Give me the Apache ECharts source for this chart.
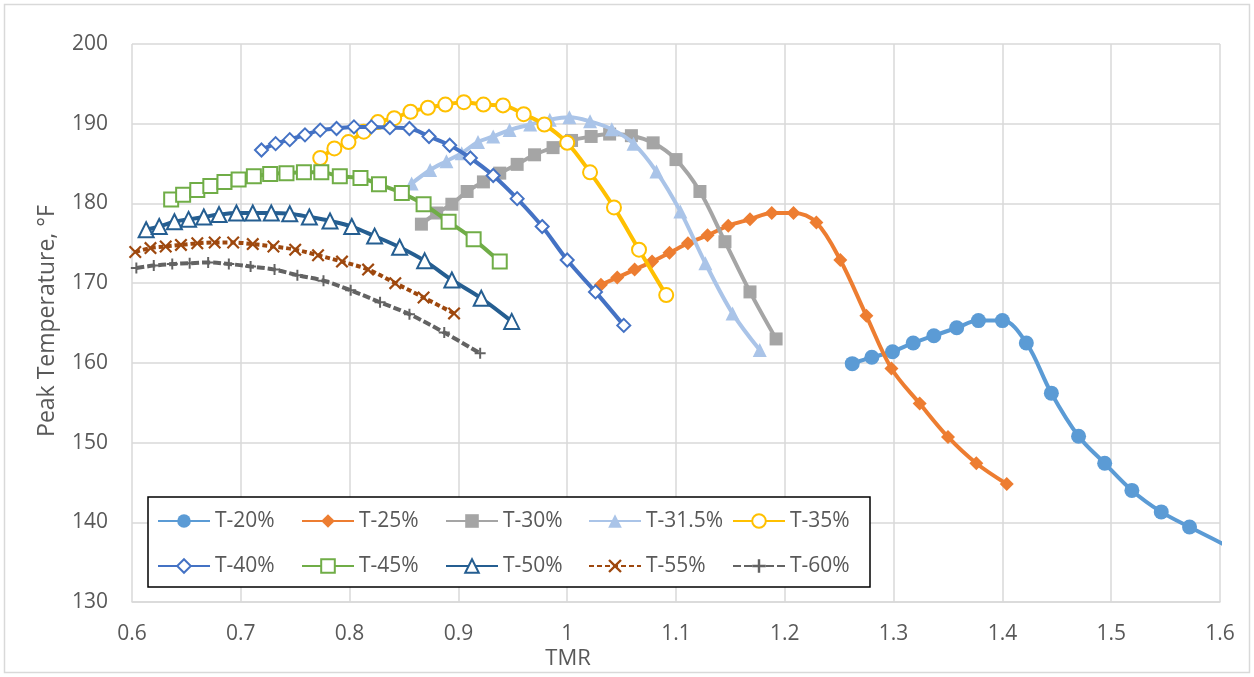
<!DOCTYPE html>
<html>
<head>
<meta charset="utf-8">
<script src="https://cdn.jsdelivr.net/npm/echarts@6/dist/echarts.min.js"></script>
<style>
html,body{margin:0;padding:0;background:#fff;}
#chart{width:1254px;height:677px;}
</style>
</head>
<body>
<div id="chart"></div>
<script>
// ---- data ----
const seriesNames = ['T-20%','T-25%','T-30%','T-31.5%','T-35%','T-40%','T-45%','T-50%','T-55%','T-60%'];

const tmr20  = [1.262,1.280,1.299,1.318,1.337,1.358,1.378,1.400,1.422,1.445,1.470,1.494,1.519,1.546,1.572,1.610];
const temp20 = [159.9,160.7,161.4,162.5,163.4,164.4,165.3,165.3,162.5,156.2,150.8,147.4,144.0,141.3,139.4,136.8];

const tmr25  = [1.031,1.046,1.062,1.078,1.094,1.111,1.129,1.148,1.168,1.188,1.208,1.229,1.251,1.275,1.298,1.324,1.350,1.376,1.404];
const temp25 = [169.8,170.7,171.7,172.7,173.8,175.0,176.0,177.2,178.0,178.8,178.8,177.6,172.9,165.9,159.3,154.9,150.7,147.4,144.8];

const tmr30  = [0.866,0.880,0.894,0.908,0.923,0.938,0.954,0.970,0.987,1.004,1.022,1.039,1.059,1.079,1.100,1.122,1.145,1.168,1.192];
const temp30 = [177.4,178.8,179.9,181.5,182.7,183.8,184.9,186.1,187.0,187.9,188.4,188.7,188.5,187.6,185.5,181.5,175.2,168.9,163.0];

const tmr315  = [0.857,0.874,0.889,0.903,0.918,0.932,0.947,0.966,0.984,1.002,1.021,1.041,1.061,1.082,1.104,1.127,1.152,1.177];
const temp315 = [182.5,184.2,185.3,186.3,187.7,188.4,189.2,189.9,190.5,190.8,190.3,189.3,187.5,184.0,179.0,172.5,166.2,161.6];

const tmr35  = [0.773,0.786,0.799,0.813,0.826,0.841,0.856,0.872,0.888,0.905,0.923,0.941,0.960,0.979,1.000,1.021,1.043,1.066,1.091];
const temp35 = [185.7,186.9,187.7,189.0,190.2,190.7,191.5,192.0,192.4,192.7,192.4,192.3,191.2,189.9,187.6,183.9,179.5,174.2,168.5];

const tmr40  = [0.719,0.732,0.745,0.759,0.773,0.788,0.804,0.820,0.837,0.855,0.873,0.892,0.911,0.932,0.954,0.977,1.000,1.026,1.052];
const temp40 = [186.7,187.5,188.0,188.6,189.2,189.4,189.6,189.6,189.5,189.4,188.4,187.3,185.7,183.5,180.6,177.1,172.9,168.9,164.7];

const tmr45  = [0.636,0.647,0.660,0.672,0.685,0.698,0.712,0.727,0.742,0.758,0.774,0.791,0.810,0.827,0.848,0.868,0.891,0.914,0.938];
const temp45 = [180.5,181.1,181.7,182.2,182.7,183.0,183.4,183.7,183.8,183.9,183.9,183.4,183.2,182.4,181.3,179.9,177.7,175.5,172.7];

const tmr50  = [0.613,0.625,0.639,0.652,0.666,0.680,0.696,0.711,0.728,0.745,0.763,0.782,0.802,0.823,0.846,0.869,0.894,0.921,0.949];
const temp50 = [176.7,177.1,177.7,178.0,178.3,178.6,178.8,178.8,178.8,178.7,178.3,177.8,177.1,175.9,174.5,172.8,170.4,168.1,165.2];

const tmr55  = [0.603,0.617,0.631,0.645,0.660,0.676,0.693,0.711,0.730,0.750,0.771,0.793,0.817,0.842,0.868,0.896];
const temp55 = [173.9,174.4,174.6,174.8,175.0,175.1,175.1,174.9,174.6,174.2,173.5,172.7,171.7,170.0,168.2,166.2];

const tmr60  = [0.604,0.620,0.637,0.653,0.670,0.689,0.709,0.731,0.752,0.776,0.801,0.828,0.855,0.887,0.920];
const temp60 = [171.9,172.2,172.4,172.5,172.6,172.4,172.1,171.7,171.0,170.3,169.1,167.6,166.1,163.8,161.2];

const xTicks = [0.6,0.7,0.8,0.9,1.0,1.1,1.2,1.3,1.4,1.5,1.6];
const yTicks = [130,140,150,160,170,180,190,200];

const xTitle = 'TMR';
const yTitle = 'Peak Temperature, °F';

// ---- styling ----
const FONT = '"Open Sans", "Liberation Sans", sans-serif';
const TXT = '#595959';
const GRID = '#D9D9D9';

const X_PATH = 'path://M0,1.2L1.2,0L5,3.8L8.8,0L10,1.2L6.2,5L10,8.8L8.8,10L5,6.2L1.2,10L0,8.8L3.8,5Z';
const PLUS_PATH = 'path://M4.1,0H5.9V4.1H10V5.9H5.9V10H4.1V5.9H0V4.1H4.1Z';

const styles = [
  {color:'#5B9BD5', symbol:'circle',   size:15, hollow:false, dash:'solid'},
  {color:'#ED7D31', symbol:'diamond',  size:14, hollow:false, dash:'solid'},
  {color:'#A5A5A5', symbol:'rect',     size:13, hollow:false, dash:'solid'},
  {color:'#AAC4E8', symbol:'triangle', size:14, hollow:false, dash:'solid'},
  {color:'#FFC000', symbol:'circle',   size:14, hollow:true,  dash:'solid'},
  {color:'#4472C4', symbol:'diamond',  size:13, hollow:true,  dash:'solid'},
  {color:'#70AD47', symbol:'rect',     size:14, hollow:true,  dash:'solid'},
  {color:'#255E91', symbol:'triangle', size:15, hollow:true,  dash:'solid'},
  {color:'#9E480E', symbol:X_PATH,     size:13, hollow:false, dash:[5,3]},
  {color:'#636363', symbol:PLUS_PATH,  size:11, hollow:false, dash:[8,3]}
];

const xs = [tmr20,tmr25,tmr30,tmr315,tmr35,tmr40,tmr45,tmr50,tmr55,tmr60];
const ys = [temp20,temp25,temp30,temp315,temp35,temp40,temp45,temp50,temp55,temp60];

const series = seriesNames.map((name,i)=>{
  const st = styles[i];
  return {
    name: name,
    type: 'line',
    data: xs[i].map((x,k)=>[x, ys[i][k]]),
    smooth: 0.35,
    symbol: st.symbol,
    symbolSize: st.size,
    showAllSymbol: true,
    clip: true,
    lineStyle: {color: st.color, width: 4, type: st.dash},
    itemStyle: st.hollow
      ? {color:'#ffffff', borderColor: st.color, borderWidth: 2}
      : {color: st.color, borderWidth: 0},
    emphasis: {disabled: true},
    z: 2 + i*0.01
  };
});

const colX = [157, 301, 445, 588, 732];
const rowY = [521, 566];
const legends = seriesNames.map((name,i)=>({
  data: [name],
  left: colX[i % 5],
  top: rowY[Math.floor(i/5)] - 10.5,
  padding: 0,
  itemGap: 0,
  itemWidth: 52,
  itemHeight: 17,
  selectedMode: false,
  textStyle: {fontSize: 21, color: TXT, fontFamily: FONT},
  z: 6
}));

const option = {
  animation: false,
  backgroundColor: '#ffffff',
  textStyle: {fontFamily: FONT},
  grid: {left: 132, right: 34, top: 44, bottom: 75, containLabel: false},
  xAxis: {
    type: 'value',
    min: xTicks[0], max: xTicks[xTicks.length-1], interval: 0.1,
    axisLine: {show: true, lineStyle: {color: GRID, width: 1.5}},
    axisTick: {show: false},
    splitLine: {show: true, lineStyle: {color: GRID, width: 1.5}},
    axisLabel: {
      margin: 22, fontSize: 21, color: TXT, fontFamily: FONT,
      formatter: v => String(Math.round(v*10)/10)
    }
  },
  yAxis: {
    type: 'value',
    min: yTicks[0], max: yTicks[yTicks.length-1], interval: 10,
    axisLine: {show: false},
    axisTick: {show: false},
    splitLine: {show: true, lineStyle: {color: GRID, width: 1.5}},
    axisLabel: {margin: 24, fontSize: 21, color: TXT, fontFamily: FONT}
  },
  legend: legends,
  graphic: [
    {type:'rect', z: 0, silent: true,
     shape:{x:4.5, y:4.5, width:1245, height:668},
     style:{fill:'none', stroke:GRID, lineWidth:1.5}},
    {type:'rect', z: 5, silent: true,
     shape:{x:148, y:497, width:722, height:90},
     style:{fill:'#ffffff', stroke:'#000000', lineWidth:1.5}},
    {type:'text', z: 6, silent: true, x: 568, y: 659,
     style:{text: xTitle, fontSize: 22, fill: TXT, fontFamily: FONT, align:'center', verticalAlign:'middle'}},
    {type:'text', z: 6, silent: true, x: 47, y: 321, rotation: Math.PI/2,
     style:{text: yTitle, fontSize: 23, fill: TXT, fontFamily: FONT, align:'center', verticalAlign:'middle'}}
  ],
  series: series
};

const chart = echarts.init(document.getElementById('chart'), null, {renderer: 'canvas'});
chart.setOption(option);
</script>
</body>
</html>
